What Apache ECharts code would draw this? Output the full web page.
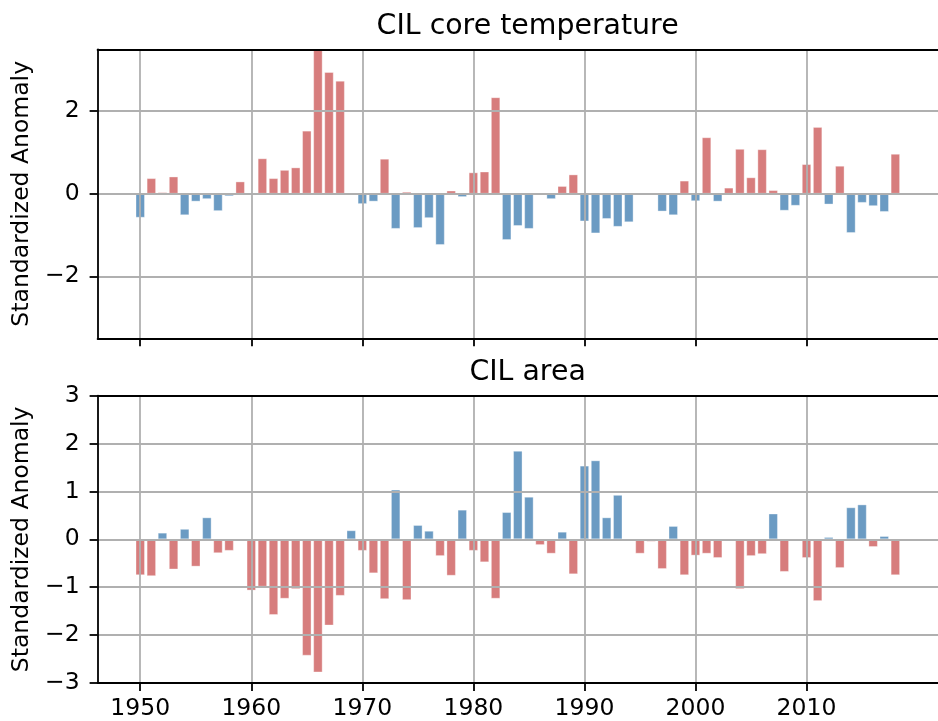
<!DOCTYPE html>
<html>
<head>
<meta charset="utf-8">
<script src="https://cdn.jsdelivr.net/npm/echarts@6/dist/echarts.min.js"></script>
<style>
  html, body { margin: 0; padding: 0; background: #fff; }
  #chart { width: 938px; height: 721px; }
</style>
</head>
<body>
<div id="chart"></div>
<script>
// Years covered by both panels
const years = [];
for (let y = 1950; y <= 2018; y++) years.push(y);

// CIL core temperature, standardized anomaly (null = no data)
const coreTemp = [
  -0.58, 0.38, 0.04, 0.42, -0.52, -0.19, -0.13, -0.42, -0.06, 0.30,
  null, 0.86, 0.38, 0.58, 0.64, 1.53, 3.60, 2.95, 2.74, null,
  -0.25, -0.19, 0.85, -0.85, 0.05, -0.83, -0.59, -1.24, 0.08, -0.08,
  0.52, 0.54, 2.34, -1.12, -0.78, -0.85, null, -0.13, 0.19, 0.47,
  -0.67, -0.96, -0.61, -0.80, -0.69, null, null, -0.43, -0.52, 0.32,
  -0.18, 1.37, -0.19, 0.15, 1.09, 0.40, 1.08, 0.09, -0.41, -0.29,
  0.72, 1.62, -0.26, 0.68, -0.95, -0.22, -0.30, -0.44, 0.97
];

// CIL area, standardized anomaly (null = no data)
const cilArea = [
  -0.75, -0.77, 0.14, -0.63, 0.22, -0.57, 0.46, -0.29, -0.24, null,
  -1.07, -0.99, -1.58, -1.24, -1.04, -2.43, -2.78, -1.80, -1.18, 0.19,
  -0.24, -0.71, -1.25, 1.04, -1.27, 0.30, 0.18, -0.35, -0.76, 0.62,
  -0.24, -0.48, -1.24, 0.57, 1.85, 0.89, -0.12, -0.30, 0.16, -0.73,
  1.54, 1.65, 0.46, 0.93, null, -0.30, -0.05, -0.62, 0.28, -0.75,
  -0.34, -0.30, -0.39, null, -1.04, -0.35, -0.31, 0.54, -0.68, -0.04,
  -0.39, -1.29, 0.05, -0.60, 0.67, 0.73, -0.16, 0.07, -0.75
];

// Axis ticks
const yearTicks = [1950, 1960, 1970, 1980, 1990, 2000, 2010];
const tempTicks = [-2, 0, 2];
const areaTicks = [-3, -2, -1, 0, 1, 2, 3];

const FONT = 'DejaVu Sans';
const RED = 'rgba(205,92,92,0.8)';
const BLUE = 'rgba(70,130,180,0.8)';
const GRID_GRAY = '#b0b0b0';

const xMin = 1946.16, xMax = 2021.84;
const plotLeft = 97.6, plotWidth = 850;
const barPx = 0.8 * plotWidth / (xMax - xMin);

const minus = v => String(v).replace('-', '\u2212');

function pairs(vals, warmIsRed) {
  return years.map((yr, i) => {
    const v = vals[i];
    if (v === null) return [yr, null];
    const red = warmIsRed ? v > 0 : v < 0;
    return { value: [yr, v], itemStyle: { color: red ? RED : BLUE } };
  });
}

function xAxisFor(gridIndex, withLabels) {
  return {
    type: 'value', gridIndex, min: xMin, max: xMax, position: 'bottom', z: 5,
    axisLine: { show: true, onZero: false, lineStyle: { color: '#000', width: 1.8 } },
    axisTick: { show: true, customValues: yearTicks, length: 8, inside: false, lineStyle: { color: '#000', width: 1.8 } },
    axisLabel: {
      show: withLabels, customValues: yearTicks, margin: 14,
      fontFamily: FONT, fontSize: 23.5, color: '#000',
      formatter: v => String(Math.round(v))
    },
    splitLine: { show: true, lineStyle: { color: GRID_GRAY, width: 1.8 } }
  };
}

function topSpine(gridIndex) {
  return {
    type: 'value', gridIndex, min: xMin, max: xMax, position: 'top', z: 5,
    axisLine: { show: true, onZero: false, lineStyle: { color: '#000', width: 1.8 } },
    axisTick: { show: false }, axisLabel: { show: false }, splitLine: { show: false }
  };
}

function yAxisFor(gridIndex, min, max, ticks) {
  return {
    type: 'value', gridIndex, min, max, z: 5,
    name: 'Standardized Anomaly', nameLocation: 'middle', nameRotate: 90, nameGap: 58,
    nameTextStyle: { fontFamily: FONT, fontSize: 23.5, color: '#000' },
    axisLine: { show: true, onZero: false, lineStyle: { color: '#000', width: 1.8 } },
    axisTick: { show: true, customValues: ticks, length: 8, inside: false, lineStyle: { color: '#000', width: 1.8 } },
    axisLabel: {
      customValues: ticks, margin: 18,
      fontFamily: FONT, fontSize: 23.5, color: '#000', formatter: minus
    },
    splitLine: { show: true, lineStyle: { color: GRID_GRAY, width: 1.8 } }
  };
}

const barStyle = { borderColor: 'rgba(255,255,255,0.35)', borderWidth: 1 };

const chart = echarts.init(document.getElementById('chart'), null, { renderer: 'canvas' });
chart.setOption({
  animation: false,
  backgroundColor: '#fff',
  title: [
    { text: 'CIL core temperature', left: plotLeft + plotWidth / 2, top: 8, textAlign: 'center',
      textStyle: { fontFamily: FONT, fontSize: 28.4, fontWeight: 'normal', color: '#000' } },
    { text: 'CIL area', left: plotLeft + plotWidth / 2, top: 354, textAlign: 'center',
      textStyle: { fontFamily: FONT, fontSize: 28.4, fontWeight: 'normal', color: '#000' } }
  ],
  grid: [
    { left: plotLeft, top: 49.3, width: plotWidth, height: 289 },
    { left: plotLeft, top: 395.7, width: plotWidth, height: 288.6 }
  ],
  xAxis: [xAxisFor(0, false), topSpine(0), xAxisFor(1, true), topSpine(1)],
  yAxis: [yAxisFor(0, -3.5, 3.5, tempTicks), yAxisFor(1, -3, 3, areaTicks)],
  series: [
    {
      type: 'bar', xAxisIndex: 0, yAxisIndex: 0, barWidth: barPx + 0.5, clip: true,
      itemStyle: barStyle, data: pairs(coreTemp, true)
    },
    {
      type: 'bar', xAxisIndex: 2, yAxisIndex: 1, barWidth: barPx + 0.5, clip: true,
      itemStyle: barStyle, data: pairs(cilArea, false)
    }
  ]
});
</script>
</body>
</html>
